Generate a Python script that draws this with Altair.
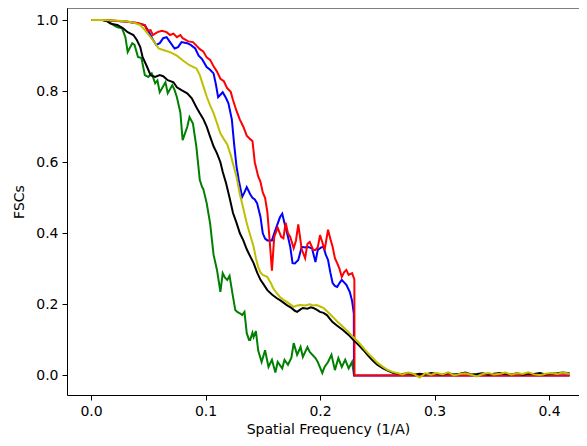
import altair as alt
import pandas as pd

# ---------------- data ----------------
red_x = [0, 0.01, 0.02, 0.03, 0.040, 0.043, 0.047, 0.049, 0.052, 0.054, 0.058, 0.062, 0.066, 0.069,
         0.072, 0.075, 0.078, 0.080, 0.085, 0.089, 0.092, 0.095, 0.098, 0.101, 0.104, 0.107, 0.110,
         0.113, 0.116, 0.119, 0.122, 0.124, 0.127, 0.130, 0.133, 0.136, 0.139, 0.141, 0.143, 0.146,
         0.148, 0.150, 0.152, 0.154, 0.156, 0.158, 0.160, 0.163, 0.166, 0.168, 0.170, 0.172, 0.174,
         0.177, 0.179, 0.181, 0.184, 0.187, 0.189, 0.191, 0.194, 0.196, 0.198, 0.200, 0.202, 0.204,
         0.207, 0.209, 0.211, 0.213, 0.215, 0.217, 0.219, 0.221, 0.223, 0.225, 0.228, 0.2300, 0.2301, 0.418]
red_y = [1.0, 1.0, 0.998, 0.996, 0.992, 0.99, 0.986, 0.97, 0.972, 0.958, 0.966, 0.97, 0.966, 0.958,
         0.962, 0.952, 0.958, 0.949, 0.94, 0.938, 0.928, 0.918, 0.912, 0.895, 0.888, 0.87, 0.855,
         0.835, 0.828, 0.808, 0.798, 0.775, 0.745, 0.72, 0.70, 0.675, 0.665, 0.66, 0.60, 0.56,
         0.545, 0.515, 0.50, 0.46, 0.38, 0.295, 0.39, 0.416, 0.39, 0.386, 0.43, 0.40, 0.39,
         0.358, 0.38, 0.425, 0.355, 0.33, 0.37, 0.376, 0.353, 0.353, 0.36, 0.395, 0.375, 0.353,
         0.41, 0.385, 0.362, 0.33, 0.316, 0.30, 0.277, 0.29, 0.297, 0.283, 0.288, 0.27, 0.0, 0.0]

blue_x = [0, 0.01, 0.02, 0.03, 0.040, 0.047, 0.050, 0.054, 0.057, 0.060, 0.063, 0.066, 0.069, 0.073,
          0.076, 0.079, 0.084, 0.087, 0.091, 0.094, 0.097, 0.101, 0.104, 0.107, 0.109, 0.111, 0.113,
          0.115, 0.118, 0.120, 0.123, 0.125, 0.127, 0.129, 0.132, 0.134, 0.136, 0.139, 0.141, 0.143,
          0.145, 0.148, 0.150, 0.152, 0.154, 0.158, 0.160, 0.162, 0.165, 0.167, 0.169, 0.172, 0.174,
          0.176, 0.178, 0.181, 0.184, 0.187, 0.189, 0.193, 0.196, 0.198, 0.201, 0.203, 0.205, 0.207,
          0.209, 0.211, 0.213, 0.215, 0.217, 0.219, 0.221, 0.223, 0.226, 0.228, 0.2295, 0.2297, 0.418]
blue_y = [1.0, 1.0, 0.998, 0.996, 0.992, 0.985, 0.97, 0.945, 0.93, 0.935, 0.949, 0.952, 0.938, 0.92,
          0.924, 0.938, 0.935, 0.93, 0.92, 0.9, 0.89, 0.868, 0.86, 0.85, 0.82, 0.783, 0.79,
          0.797, 0.78, 0.766, 0.72, 0.65, 0.59, 0.55, 0.502, 0.515, 0.53, 0.51, 0.50, 0.495,
          0.485, 0.446, 0.40, 0.385, 0.38, 0.38, 0.40, 0.418, 0.445, 0.455, 0.428, 0.39, 0.362,
          0.316, 0.315, 0.325, 0.362, 0.36, 0.362, 0.358, 0.319, 0.353, 0.36, 0.362, 0.34, 0.325,
          0.29, 0.26, 0.252, 0.249, 0.26, 0.269, 0.262, 0.255, 0.235, 0.21, 0.175, 0.0, 0.0]

black_x = [0, 0.01, 0.014, 0.017, 0.023, 0.028, 0.032, 0.037, 0.040, 0.043, 0.045, 0.049, 0.052,
           0.056, 0.060, 0.063, 0.067, 0.072, 0.075, 0.079, 0.084, 0.088, 0.092, 0.095, 0.098, 0.101,
           0.104, 0.107, 0.110, 0.113, 0.115, 0.118, 0.121, 0.124, 0.127, 0.130, 0.133, 0.136, 0.139,
           0.142, 0.145, 0.148, 0.151, 0.154, 0.158, 0.162, 0.166, 0.171, 0.175, 0.178, 0.180, 0.183,
           0.185, 0.189, 0.192, 0.194, 0.197, 0.200, 0.203, 0.206, 0.209, 0.211, 0.215, 0.220, 0.225,
           0.229, 0.234, 0.238, 0.242, 0.246, 0.250, 0.255, 0.260, 0.264]
black_y = [1.0, 1.0, 0.997, 0.99, 0.986, 0.977, 0.966, 0.958, 0.944, 0.924, 0.896, 0.868, 0.845,
           0.84, 0.845, 0.842, 0.831, 0.825, 0.811, 0.803, 0.794, 0.78, 0.755, 0.738, 0.722, 0.70,
           0.672, 0.645, 0.625, 0.60, 0.573, 0.54, 0.50, 0.457, 0.43, 0.40, 0.38, 0.355, 0.335,
           0.316, 0.29, 0.269, 0.255, 0.24, 0.228, 0.218, 0.21, 0.198, 0.19, 0.182, 0.179, 0.186,
           0.19, 0.188, 0.192, 0.19, 0.185, 0.179, 0.176, 0.17, 0.158, 0.15, 0.14, 0.128, 0.114,
           0.1, 0.085, 0.071, 0.056, 0.042, 0.03, 0.02, 0.012, 0.007]

yellow_x = [0, 0.01, 0.02, 0.03, 0.037, 0.043, 0.047, 0.052, 0.056, 0.059, 0.063, 0.069, 0.075,
            0.080, 0.086, 0.092, 0.095, 0.098, 0.101, 0.104, 0.107, 0.110, 0.113, 0.116, 0.119,
            0.122, 0.124, 0.127, 0.130, 0.133, 0.136, 0.139, 0.142, 0.144, 0.146, 0.148, 0.150,
            0.152, 0.154, 0.157, 0.159, 0.162, 0.165, 0.168, 0.171, 0.174, 0.177, 0.180, 0.183,
            0.187, 0.191, 0.194, 0.197, 0.200, 0.203, 0.207, 0.211, 0.215, 0.220, 0.225, 0.229,
            0.234, 0.238, 0.242, 0.246, 0.250, 0.255, 0.259, 0.263]
yellow_y = [1.0, 1.0, 0.999, 0.997, 0.993, 0.986, 0.972, 0.952, 0.935, 0.92, 0.916, 0.91, 0.9,
            0.887, 0.873, 0.864, 0.845, 0.815, 0.785, 0.76, 0.738, 0.71, 0.681, 0.665, 0.65,
            0.62, 0.596, 0.56, 0.51, 0.47, 0.428, 0.395, 0.362, 0.33, 0.305, 0.29, 0.283,
            0.28, 0.277, 0.26, 0.246, 0.232, 0.221, 0.213, 0.207, 0.2, 0.193, 0.197, 0.198,
            0.197, 0.2, 0.197, 0.198, 0.194, 0.19, 0.178, 0.165, 0.152, 0.137, 0.122, 0.108,
            0.092, 0.077, 0.062, 0.049, 0.036, 0.024, 0.016, 0.01]

green_x = [0, 0.01, 0.015, 0.020, 0.023, 0.027, 0.030, 0.032, 0.036, 0.038, 0.041, 0.044, 0.047,
           0.050, 0.053, 0.056, 0.058, 0.060, 0.065, 0.067, 0.071, 0.073, 0.075, 0.078, 0.080, 0.084,
           0.086, 0.089, 0.092, 0.095, 0.097, 0.098, 0.101, 0.104, 0.107, 0.110, 0.113, 0.115, 0.117,
           0.119, 0.121, 0.124, 0.126, 0.128, 0.130, 0.132, 0.134, 0.136, 0.138, 0.139, 0.141, 0.142,
           0.144, 0.146, 0.149, 0.152, 0.155, 0.158, 0.161, 0.163, 0.167, 0.169, 0.172, 0.175, 0.177,
           0.180, 0.183, 0.185, 0.189, 0.191, 0.196, 0.198, 0.202, 0.204, 0.207, 0.210, 0.213, 0.216,
           0.219, 0.222, 0.225, 0.228, 0.2297]
green_y = [1.0, 1.0, 0.996, 0.985, 0.98, 0.978, 0.952, 0.91, 0.935, 0.93, 0.896, 0.893, 0.845,
           0.84, 0.85, 0.822, 0.83, 0.797, 0.825, 0.794, 0.817, 0.803, 0.783, 0.74, 0.662, 0.699,
           0.727, 0.709, 0.643, 0.55, 0.53, 0.525, 0.485, 0.428, 0.34, 0.297, 0.235, 0.288, 0.275,
           0.269, 0.28, 0.221, 0.184, 0.178, 0.175, 0.17, 0.179, 0.119, 0.1, 0.1, 0.12, 0.108,
           0.125, 0.07, 0.038, 0.071, 0.024, 0.044, 0.008, 0.038, 0.02, 0.044, 0.03, 0.05, 0.091,
           0.058, 0.08, 0.052, 0.08, 0.066, 0.049, 0.038, 0.007, 0.024, 0.038, 0.058, 0.015, 0.049,
           0.024, 0.044, 0.02, 0.038, 0.0]

# high-frequency tails (near zero)
tail_x = [0.268, 0.272, 0.277, 0.282, 0.287, 0.292, 0.297, 0.302, 0.307, 0.312, 0.317, 0.322,
          0.327, 0.332, 0.337, 0.342, 0.347, 0.352, 0.357, 0.362, 0.367, 0.372, 0.377, 0.382,
          0.387, 0.392, 0.397, 0.402, 0.407, 0.412, 0.418]
black_tail = [0.005, 0.004, 0.006, 0.002, 0.005, 0.003, 0.007, 0.004, 0.002, 0.006, 0.003, 0.005,
              0.008, 0.003, 0.004, 0.006, 0.002, 0.005, 0.007, 0.004, 0.003, 0.006, 0.002, 0.005,
              0.004, 0.007, 0.003, 0.005, 0.006, 0.008, 0.006]
yellow_tail = [0.006, 0.003, 0.008, 0.004, -0.006, 0.006, 0.002, 0.007, 0.003, 0.009, 0.0, 0.004,
               0.006, 0.002, -0.003, 0.004, 0.007, 0.003, 0.005, 0.008, 0.002, 0.006, 0.004, 0.009,
               0.003, 0.001, 0.005, 0.007, 0.004, 0.008, 0.005]

x_ticks = [0.0, 0.1, 0.2, 0.3, 0.4]
y_ticks = [0.0, 0.2, 0.4, 0.6, 0.8, 1.0]

# ---------------- chart ----------------
W, H = 512, 387
series = [
    ("green", green_x, green_y, "#008000"),
    ("blue", blue_x, blue_y, "#0000ff"),
    ("red", red_x, red_y, "#ff0000"),
    ("black", black_x + tail_x, black_y + black_tail, "#000000"),
    ("yellow", yellow_x + tail_x, yellow_y + yellow_tail, "#bfbf00"),
]

xenc = alt.X("x:Q", title="Spatial Frequency (1/A)",
             scale=alt.Scale(domain=[-0.021, 0.4262], nice=False, zero=False),
             axis=alt.Axis(values=x_ticks, format=".1f", labelPadding=4, titlePadding=4,
                           titleX=261))
yenc = alt.Y("y:Q", title="FSCs",
             scale=alt.Scale(domain=[-0.055, 1.034], nice=False, zero=False),
             axis=alt.Axis(values=y_ticks, format=".1f", labelPadding=4, titlePadding=9))

layers = []
for name, xs, ys, col in series:
    df = pd.DataFrame({"x": xs, "y": ys, "order": range(len(xs))})
    layers.append(
        alt.Chart(df).mark_line(color=col, strokeWidth=2, clip=True).encode(
            x=xenc, y=yenc, order="order:Q"
        )
    )

top = alt.Chart(pd.DataFrame({"a": [0]})).mark_rule(color="black", strokeWidth=1).encode(
    x=alt.value(0), x2=alt.value(W), y=alt.value(0)
)

chart = alt.layer(*layers, top).properties(
    width=W, height=H,
    padding={"left": 59, "top": 0, "right": 0, "bottom": 43},
    autosize=alt.AutoSizeParams(type="none"),
).configure_view(stroke=None).configure_axis(
    grid=False, domainColor="black", tickColor="black", labelColor="black",
    titleColor="black", labelFont="DejaVu Sans", titleFont="DejaVu Sans",
    labelFontSize=14, titleFontSize=14, titleFontWeight="normal", tickSize=5,
    domainWidth=1, tickWidth=1,
)

chart.save("out.html", embed_options={"renderer": "svg", "actions": False})
